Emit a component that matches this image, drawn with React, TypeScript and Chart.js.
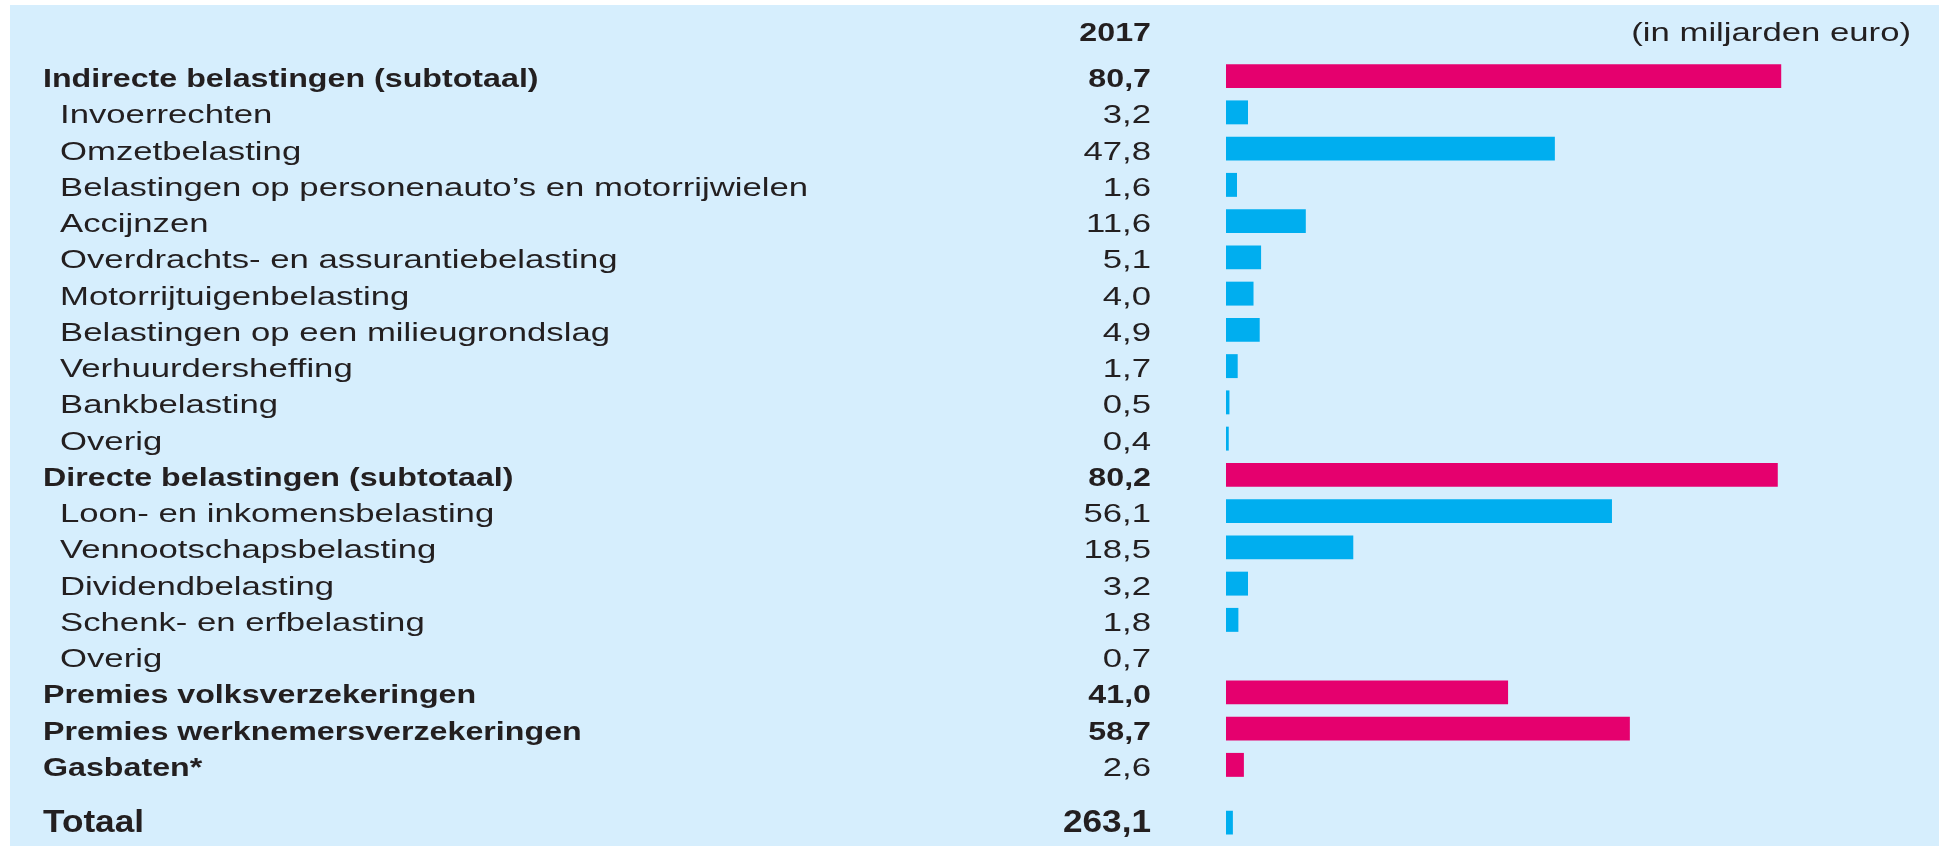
import React, { useEffect, useRef } from "react";
import { Chart, registerables } from "chart.js";

Chart.register(...registerables);

// ---------- data ----------
const categories = [
  "Indirecte belastingen (subtotaal)",
  "Invoerrechten",
  "Omzetbelasting",
  "Belastingen op personenauto’s en motorrijwielen",
  "Accijnzen",
  "Overdrachts- en assurantiebelasting",
  "Motorrijtuigenbelasting",
  "Belastingen op een milieugrondslag",
  "Verhuurdersheffing",
  "Bankbelasting",
  "Overig",
  "Directe belastingen (subtotaal)",
  "Loon- en inkomensbelasting",
  "Vennootschapsbelasting",
  "Dividendbelasting",
  "Schenk- en erfbelasting",
  "Overig",
  "Premies volksverzekeringen",
  "Premies werknemersverzekeringen",
  "Gasbaten*",
];
const values = [80.7, 3.2, 47.8, 1.6, 11.6, 5.1, 4.0, 4.9, 1.7, 0.5, 0.4, 80.2, 56.1, 18.5, 3.2, 1.8, 0.7, 41.0, 58.7, 2.6];
// rows printed in bold (main groups) — these get the magenta bar
const boldLabel = [true, false, false, false, false, false, false, false, false, false, false, true, false, false, false, false, false, true, true, true];
const boldValue = [true, false, false, false, false, false, false, false, false, false, false, true, false, false, false, false, false, true, true, false];
// the second "Overig" row has no bar in the picture
const hasBar = [true, true, true, true, true, true, true, true, true, true, true, true, true, true, true, true, false, true, true, true];

const totalLabel = "Totaal";
const totalValue = 263.1;
const totalBarLength = 1.0; // small stub bar as drawn in the picture

const yearLabel = "2017";
const unitLabel = "(in miljarden euro)";
const xMax = 100;

// ---------- style ----------
const PINK = "#E5006E";
const BLUE = "#00AEEF";
const BG = "#D6EEFD";
const TEXT = "#231F20";
const FONT = "'Liberation Sans', Arial, sans-serif";
const W = 1939;
const H1 = 790;
const H2 = 56;

const fmt = (v: number) => v.toFixed(1).replace(".", ",");

function drawText(ctx: CanvasRenderingContext2D, text: string, x: number, y: number, align: CanvasTextAlign, font: string, sx: number) {
  ctx.save();
  ctx.font = font;
  ctx.textAlign = align;
  ctx.textBaseline = "alphabetic";
  ctx.translate(x, y);
  ctx.scale(sx, 1);
  ctx.fillText(text, 0, 0);
  ctx.restore();
}

function makeLabelPlugin(opts: {
  labels: string[];
  vals: number[];
  bLabel: boolean[];
  bValue: boolean[];
  size: number;
  baseOff: number;
  sxReg: number;
  sxBold: number;
  header: boolean;
}) {
  return {
    id: "rowLabels",
    afterDatasetsDraw(chart: any) {
      const ctx = chart.ctx as CanvasRenderingContext2D;
      const yScale = chart.scales.y;
      ctx.save();
      ctx.fillStyle = TEXT;
      const reg = `${opts.size}px ${FONT}`;
      const bold = `bold ${opts.size}px ${FONT}`;
      opts.labels.forEach((lab, i) => {
        const yb = yScale.getPixelForValue(i) + opts.baseOff;
        const bl = opts.bLabel[i];
        drawText(ctx, lab, bl ? 43 : 60, yb, "left", bl ? bold : reg, bl ? opts.sxBold : opts.sxReg);
        const bv = opts.bValue[i];
        drawText(ctx, fmt(opts.vals[i]), 1151, yb, "right", bv ? bold : reg, bv ? opts.sxBold : opts.sxReg);
      });
      if (opts.header) {
        drawText(ctx, yearLabel, 1151, 40.5, "right", bold, opts.sxBold);
        drawText(ctx, unitLabel, 1911, 40.5, "right", reg, opts.sxReg);
      }
      ctx.restore();
    },
  };
}

function baseOptions(padTop: number, padBottom: number) {
  return {
    indexAxis: "y" as const,
    responsive: false,
    animation: false as const,
    devicePixelRatio: 1,
    layout: { padding: { left: 1226, right: W - 1226 - 688, top: padTop, bottom: padBottom } },
    plugins: { legend: { display: false }, tooltip: { enabled: false }, title: { display: false } },
    scales: {
      x: { display: false, min: 0, max: xMax },
      y: { display: false, offset: true, grid: { display: false } },
    },
  };
}

export default function App() {
  const ref1 = useRef<HTMLCanvasElement>(null);
  const ref2 = useRef<HTMLCanvasElement>(null);

  useEffect(() => {
    if (!ref1.current || !ref2.current) return;
    const c1 = new Chart(ref1.current, {
      type: "bar",
      data: {
        labels: categories,
        datasets: [
          {
            data: values.map((v, i) => (hasBar[i] ? v : null)),
            backgroundColor: boldLabel.map((b) => (b ? PINK : BLUE)),
            borderWidth: 0,
            barPercentage: 0.66,
            categoryPercentage: 1,
          },
        ],
      },
      options: baseOptions(58, 7) as any,
      plugins: [
        makeLabelPlugin({
          labels: categories, vals: values, bLabel: boldLabel, bValue: boldValue,
          size: 26.5, baseOff: 11, sxReg: 1.31, sxBold: 1.215, header: true,
        }),
      ],
    });
    const c2 = new Chart(ref2.current, {
      type: "bar",
      data: {
        labels: [totalLabel],
        datasets: [
          {
            data: [totalBarLength],
            backgroundColor: BLUE,
            borderWidth: 0,
            barPercentage: 0.66,
            categoryPercentage: 1,
          },
        ],
      },
      options: baseOptions(14.5, 5.25) as any,
      plugins: [
        makeLabelPlugin({
          labels: [totalLabel], vals: [totalValue], bLabel: [true], bValue: [true],
          size: 32, baseOff: 9.5, sxReg: 1.1, sxBold: 1.1, header: false,
        }),
      ],
    });
    return () => {
      c1.destroy();
      c2.destroy();
    };
  }, []);

  return (
    <div style={{ position: "fixed", left: 0, top: 0, width: W, height: 846, background: "#fff", overflow: "hidden" }}>
      <div style={{ position: "absolute", left: 10, top: 5, right: 0, bottom: 0, background: BG }} />
      <canvas ref={ref1} width={W} height={H1} style={{ position: "absolute", left: 0, top: 0 }} />
      <canvas ref={ref2} width={W} height={H2} style={{ position: "absolute", left: 0, top: H1 }} />
    </div>
  );
}
